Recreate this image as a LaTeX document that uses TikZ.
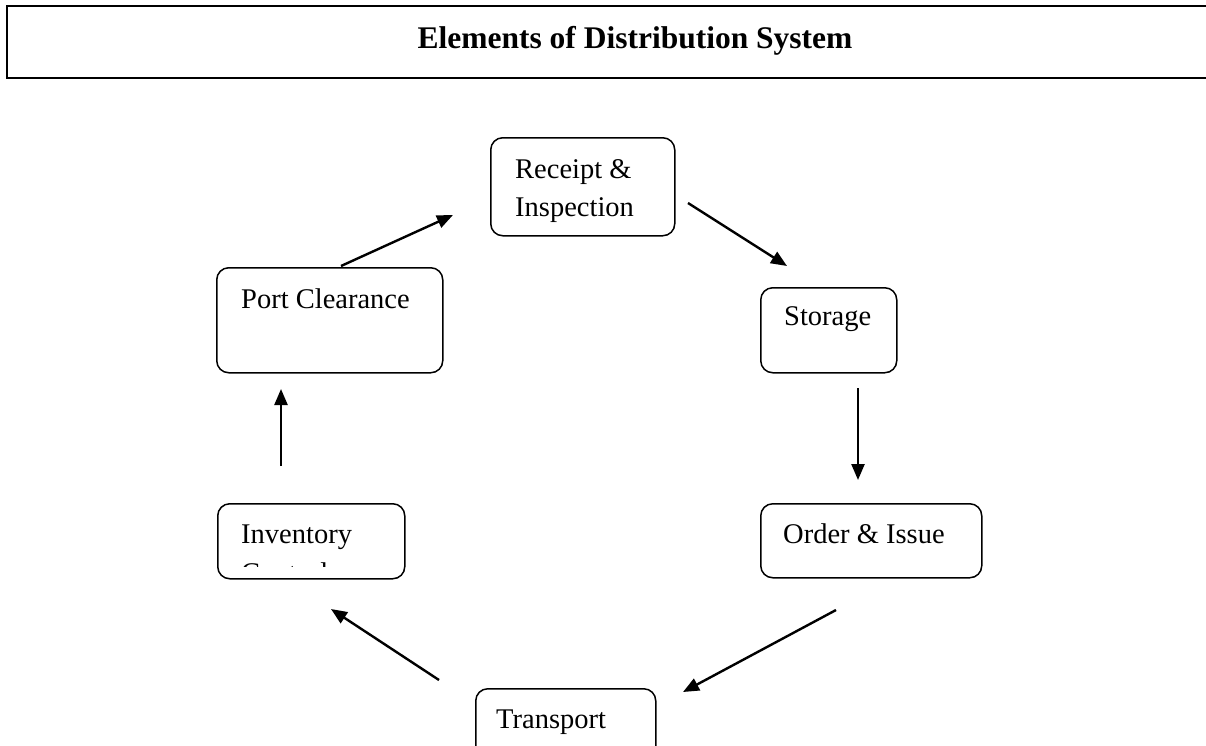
\documentclass[tikz,border=0pt]{standalone}
\usepackage{fontspec}
\setmainfont{Liberation Serif}
\usetikzlibrary{arrows.meta}
\tikzset{
  box/.style={draw, line width=1.5pt, rounded corners=12pt, inner sep=0pt},
  txt/.style={anchor=base west, inner sep=0pt, font=\fontsize{28.5}{34}\selectfont},
  flow/.style={line width=2.4pt, -{Triangle[length=16pt,width=13pt]}},
  titlebox/.style={draw, line width=2.2pt, inner sep=0pt}
}
\begin{document}
\begin{tikzpicture}[x=1pt,y=-1pt]
\useasboundingbox (0,0) rectangle (1206,745);
\clip (0,0) rectangle (1206,745);
% title
\node[titlebox, anchor=north west, minimum width=1220pt, minimum height=72pt] (tbox) at (6,5) {};
\node[anchor=base, inner sep=0pt, font=\fontsize{31.5}{36}\selectfont\bfseries] (title) at (635,48) {Elements of Distribution System};
% boxes
\node[box, anchor=north west, minimum width=184pt, minimum height=98pt] (rec) at (490,137) {};
\node[txt] (rect1) at (515,178) {Receipt \&};
\node[txt] (rect2) at (515,216.5) {Inspection};
\node[box, anchor=north west, minimum width=136pt, minimum height=85pt] (sto) at (760,287) {};
\node[txt] (stot) at (784,325) {Storage};
\node[box, anchor=north west, minimum width=226pt, minimum height=105pt] (port) at (216,267) {};
\node[txt] (portt) at (241,308) {Port Clearance};
\node[box, anchor=north west, minimum width=221pt, minimum height=74pt] (ord) at (760,503) {};
\node[txt] (ordt) at (783,543) {Order \& Issue};
\node[box, anchor=north west, minimum width=187pt, minimum height=75pt] (inv) at (217,503) {};
\node[txt] (invt1) at (241,543) {Inventory};
\begin{scope}
\clip (217,503) rectangle (404,566.5);
\node[txt] (invt2) at (241,582) {Control};
\end{scope}
\node[box, anchor=north west, minimum width=180pt, minimum height=80pt] (tra) at (475,688) {};
\node[txt] (trat) at (496,728) {Transport};
% arrow end points
\coordinate (a1s) at (281,466); \coordinate (a1e) at (281,389);
\coordinate (a2s) at (341,266); \coordinate (a2e) at (453,215);
\coordinate (a3s) at (688,203); \coordinate (a3e) at (787,266);
\coordinate (a4s) at (858,388); \coordinate (a4e) at (858,480);
\coordinate (a5s) at (836,610); \coordinate (a5e) at (683,692);
\coordinate (a6s) at (439,680); \coordinate (a6e) at (331,609);
\draw[flow] (a1s) -- (a1e);
\draw[flow] (a2s) -- (a2e);
\draw[flow] (a3s) -- (a3e);
\draw[flow] (a4s) -- (a4e);
\draw[flow] (a5s) -- (a5e);
\draw[flow] (a6s) -- (a6e);
\end{tikzpicture}
\end{document}
